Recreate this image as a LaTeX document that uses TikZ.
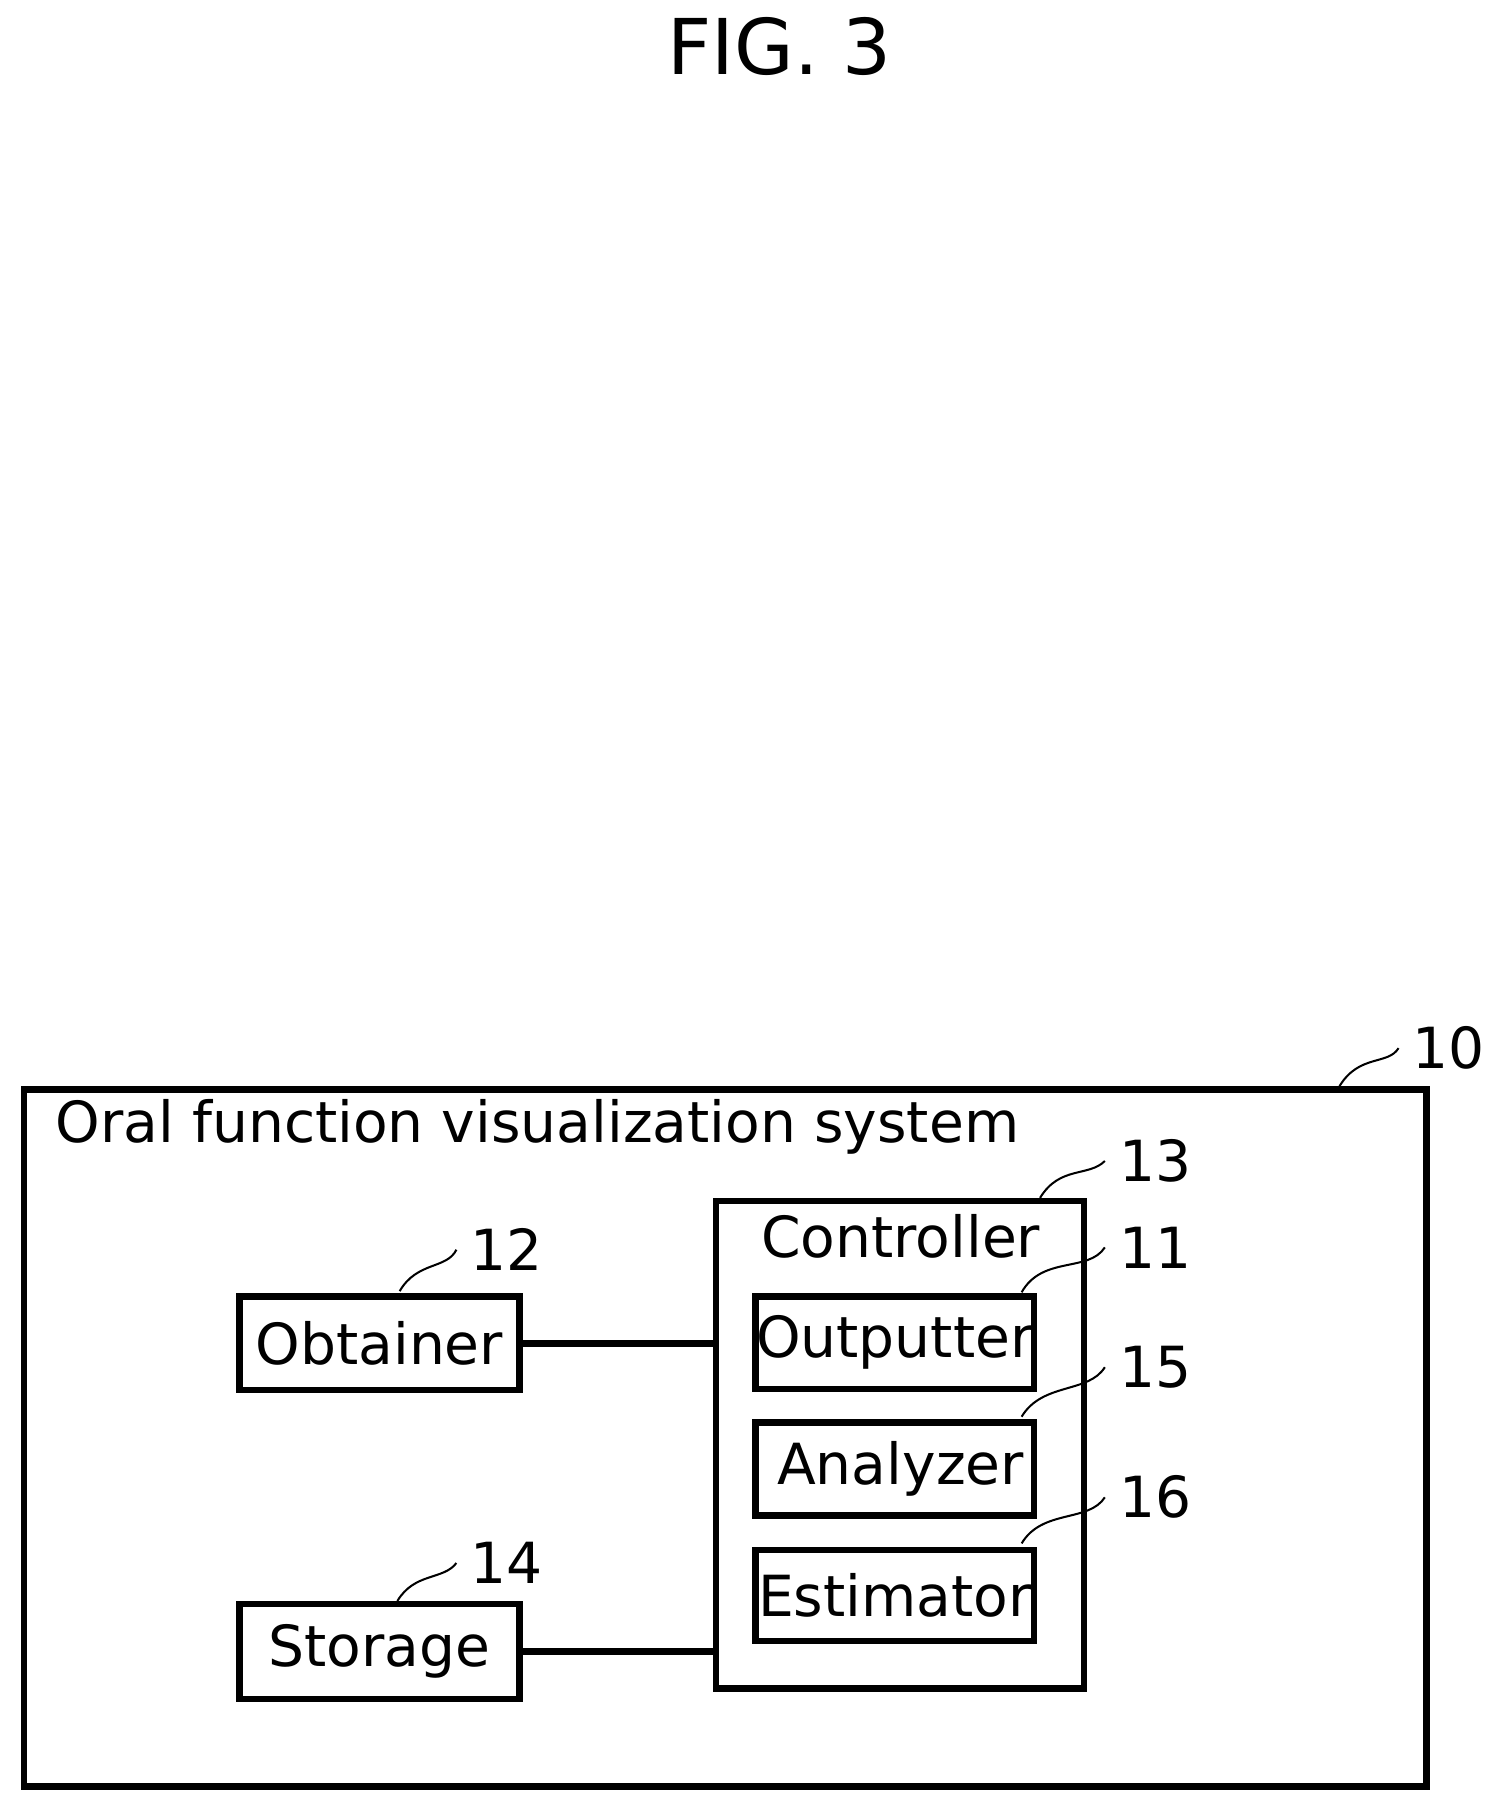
\documentclass[tikz,border=0pt]{standalone}
\usepackage{fontspec}
\setmainfont{DejaVu Sans}
\begin{document}
\begin{tikzpicture}[x=0.01cm,y=-0.01cm,
  box/.style={draw,line width=1.6pt,inner sep=0pt},
  lbl/.style={font=\fontsize{14}{16}\selectfont},
  lead/.style={line width=0.5pt}]
\useasboundingbox (0,0) rectangle (1308,1568);
\node[font=\fontsize{19}{22}\selectfont] (fig) at (677,40) {FIG. 3};
\node[box,minimum width=1217\pgflinewidth*0+12.17cm,minimum height=6.05cm,anchor=north west] (sys) at (18,943) {};
\node[lbl,anchor=west] (title) at (36,978) {Oral function visualization system};
\node[box,minimum width=3.19cm,minimum height=4.23cm,anchor=north west] (ctrl) at (619,1040) {};
\node[lbl] (ctrlt) at (782,1073) {Controller};
\node[box,lbl,minimum width=2.43cm,minimum height=0.81cm,anchor=north west] (obt) at (205,1123) {};
\node[lbl] at (obt.center) {Obtainer};
\node[box,lbl,minimum width=2.43cm,minimum height=0.82cm,anchor=north west] (sto) at (205,1390) {};
\node[lbl] at (sto.center) {Storage};
\node[box,minimum width=2.42cm,minimum height=0.80cm,anchor=north west] (out) at (653,1123) {};
\node[lbl] at (out.center) {Outputter};
\node[box,minimum width=2.42cm,minimum height=0.81cm,anchor=north west] (ana) at (653,1232) {};
\node[lbl] at ([xshift=0.05cm]ana.center) {Analyzer};
\node[box,minimum width=2.42cm,minimum height=0.79cm,anchor=north west] (est) at (653,1343) {};
\node[lbl] at (est.center) {Estimator};
\draw[line width=1.6pt] (obt.east) -- (obt.east -| ctrl.west);
\draw[line width=1.6pt] (sto.east) -- (sto.east -| ctrl.west);
\node[lbl] (n10) at (1258,910) {10};
\node[lbl] (n13) at (1003,1008) {13};
\node[lbl] (n12) at (440,1085) {12};
\node[lbl] (n14) at (440,1357) {14};
\node[lbl] (n11) at (1003,1083) {11};
\node[lbl] (n15) at (1003,1187) {15};
\node[lbl] (n16) at (1003,1300) {16};
\coordinate (c10) at (1163,943);
\coordinate (c13) at (903,1040);
\coordinate (c12) at (347,1121);
\coordinate (c14) at (345,1390);
\coordinate (c11) at (887,1122);
\coordinate (c15) at (887,1230);
\coordinate (c16) at (887,1340);
\draw[lead] (c10) .. controls (1180,915) and (1205,925) .. (n10.west);
\draw[lead] (c13) .. controls (920,1012) and (945,1022) .. (n13.west);
\draw[lead] (c12) .. controls (362,1095) and (388,1102) .. (n12.west);
\draw[lead] (c14) .. controls (360,1365) and (385,1372) .. (n14.west);
\draw[lead] (c11) .. controls (905,1090) and (945,1105) .. (n11.west);
\draw[lead] (c15) .. controls (905,1200) and (945,1210) .. (n15.west);
\draw[lead] (c16) .. controls (905,1310) and (945,1322) .. (n16.west);
\end{tikzpicture}
\end{document}
